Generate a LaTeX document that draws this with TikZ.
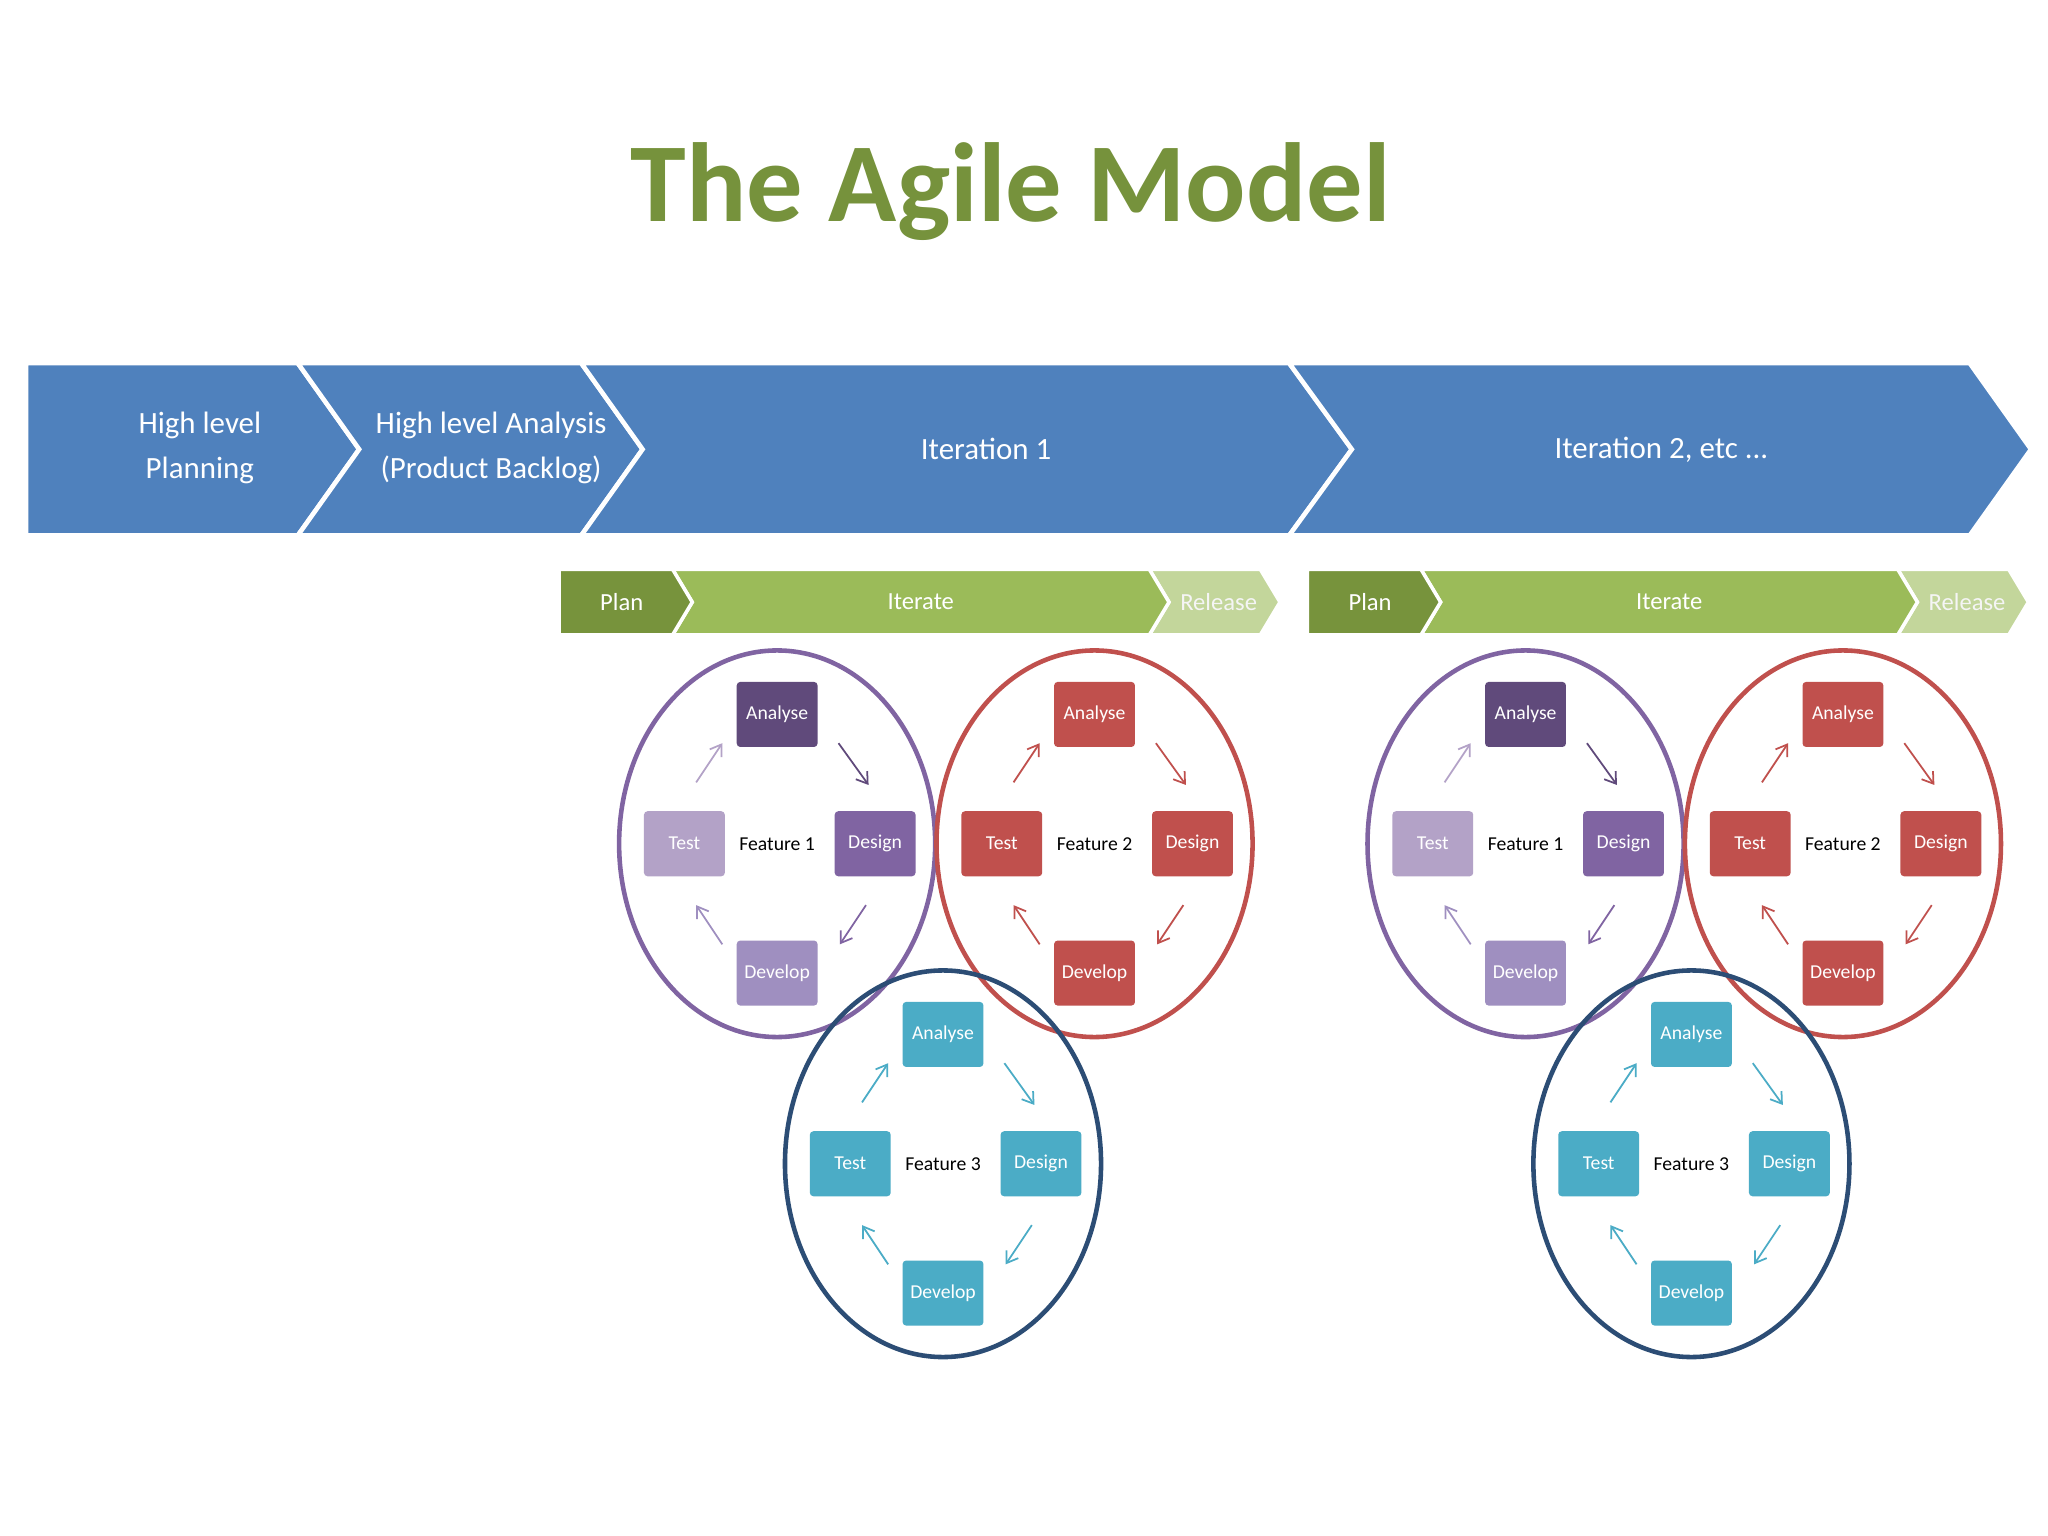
\documentclass[tikz,border=0pt]{standalone}
\usepackage{fontspec}
\setmainfont{Carlito}
\usetikzlibrary{arrows.meta}
\definecolor{chev}{HTML}{4F81BD}
\definecolor{gA}{HTML}{77933C}
\definecolor{gB}{HTML}{9BBB59}
\definecolor{gC}{HTML}{C3D69B}
\definecolor{ttl}{HTML}{76923C}
\definecolor{pA}{HTML}{604A7B}
\definecolor{pB}{HTML}{8064A2}
\definecolor{pC}{HTML}{9F8FC0}
\definecolor{pD}{HTML}{B3A2C7}
\definecolor{rA}{HTML}{C0504D}
\definecolor{bA}{HTML}{4BACC6}
\definecolor{bC}{HTML}{2C4D75}
\begin{document}
\begin{tikzpicture}[x=0.013061cm,y=-0.013061cm,
  chevtxt/.style={text=white,font=\fontsize{8.8}{13}\selectfont,align=center},
  gtxt/.style={text=white,font=\fontsize{7}{9}\selectfont},
  box/.style={minimum width=23pt,minimum height=18.5pt,inner sep=0pt,rounded corners=1pt,text=white,font=\fontsize{5.6}{7}\selectfont},
  ftxt/.style={font=\fontsize{5.6}{7}\selectfont,text=black},
  ring/.style={line width=1.3pt},
  sarr/.style={-{Straight Barb[length=3pt,width=4pt]},line width=0.5pt}]
\useasboundingbox (0,0) rectangle (1568,1176);
\fill[white] (0,0) rectangle (1568,1176);
\node[text=ttl,font=\fontsize{32}{36}\selectfont\bfseries] (title) at (774,147) {The Agile Model};
\tikzset{cv/.style={fill=chev,draw=white,line width=1.3pt,line join=miter}}
\filldraw[cv] (20,278)--(228,278)--(275,344)--(228,410)--(20,410)--cycle;
\filldraw[cv] (228,278)--(445,278)--(492,344)--(445,410)--(228,410)--(275,344)--cycle;
\filldraw[cv] (445,278)--(987,278)--(1035,344)--(987,410)--(445,410)--(492,344)--cycle;
\filldraw[cv] (987,278)--(1508,278)--(1555,344)--(1508,410)--(987,410)--(1035,344)--cycle;
\node[chevtxt] (c1) at (153,343) {High level\\Planning};
\node[chevtxt] (c2) at (376,343) {High level Analysis\\(Product Backlog)};
\node[chevtxt] (c3) at (755,344) {Iteration 1};
\node[chevtxt] (c4) at (1272,344) {Iteration 2, etc ...};
\newcommand\gbar[2]{%
 \begin{scope}[xshift=#1*0.013061cm]
 \filldraw[fill=gC,draw=white,line width=1pt] (880,436)--(965,436)--(980,461)--(965,486)--(880,486)--(895,461)--cycle;
 \filldraw[fill=gB,draw=white,line width=1pt] (515,436)--(880,436)--(895,461)--(880,486)--(515,486)--(530,461)--cycle;
 \filldraw[fill=gA,draw=white,line width=1pt] (428,436)--(515,436)--(530,461)--(515,486)--(428,486)--cycle;
 \node[gtxt] (plan#2) at (476,461) {Plan};
 \node[gtxt] (iter#2) at (705,461) {Iterate};
 \node[gtxt,text=white!92!gray] (rel#2) at (933,461) {Release};
 \end{scope}}
\gbar{0}{a}
\gbar{573}{b}
\newcommand\feat[9]{%
 \draw[ring,draw=#3] (#1,#2) ellipse [x radius=121,y radius=148];
 \node[box,fill=#4] (#9an) at (#1,#2-99) {Analyse};
 \node[box,fill=#5] (#9de) at (#1+75,#2) {Design};
 \node[box,fill=#6] (#9dv) at (#1,#2+99) {Develop};
 \node[box,fill=#7] (#9te) at (#1-71,#2) {Test};
 \node[ftxt] (#9f) at (#1,#2) {#8};
 \draw[sarr,draw=#7] (#1-62,#2-47) -- (#1-42,#2-77);
 \draw[sarr,draw=#4] (#1+47,#2-77) -- (#1+70,#2-45);
 \draw[sarr,draw=#5] (#1+68,#2+47) -- (#1+48,#2+77);
 \draw[sarr,draw=#6] (#1-42,#2+77) -- (#1-62,#2+47);
}
\feat{595}{646}{pB}{pA}{pB}{pC}{pD}{Feature 1}{fa}
\feat{838}{646}{rA}{rA}{rA}{rA}{rA}{Feature 2}{fb}
\feat{722}{891}{bC}{bA}{bA}{bA}{bA}{Feature 3}{fc}
\feat{1168}{646}{pB}{pA}{pB}{pC}{pD}{Feature 1}{fd}
\feat{1411}{646}{rA}{rA}{rA}{rA}{rA}{Feature 2}{fe}
\feat{1295}{891}{bC}{bA}{bA}{bA}{bA}{Feature 3}{ff}
\end{tikzpicture}
\end{document}
